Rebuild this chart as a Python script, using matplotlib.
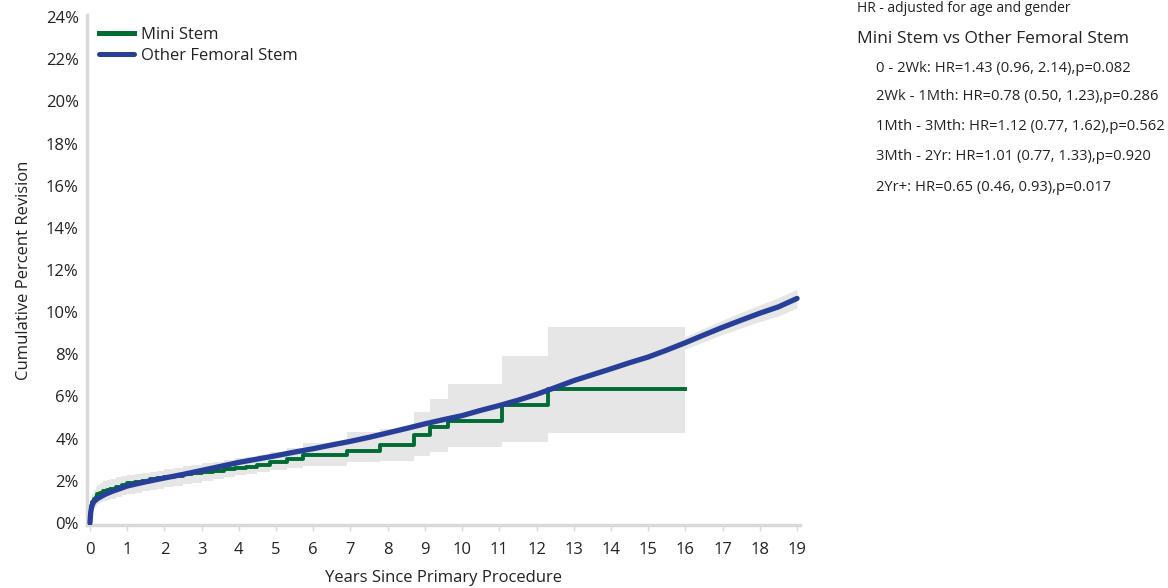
import numpy as np
import matplotlib.pyplot as plt

plt.rcParams['font.family'] = ['Open Sans', 'DejaVu Sans']

# Other Femoral Stem (KM estimate, % revised)
blue_x = [0, 0.02, 0.05, 0.1, 0.2, 0.4, 0.6, 0.8, 1.0, 1.5,
          2.0, 2.5, 3.0, 3.5, 4.0, 4.5, 5.0, 5.5, 6.0, 6.5, 7.0, 7.5,
          8.0, 8.5, 9.0, 9.5, 10.0, 10.5, 11.0, 11.5, 12.0, 12.5, 13.0,
          13.5, 14.0, 14.5, 15.0, 15.5, 16.0, 16.5, 17.0, 17.5, 18.0,
          18.5, 19.0]
blue_y = [0, 0.5, 0.8, 1.0, 1.15, 1.35, 1.5, 1.62, 1.75, 1.95,
          2.13, 2.3, 2.49, 2.68, 2.87, 3.03, 3.19, 3.36, 3.52, 3.7, 3.87, 4.06,
          4.27, 4.48, 4.70, 4.9, 5.09, 5.34, 5.57, 5.82, 6.1, 6.42, 6.75,
          7.03, 7.31, 7.6, 7.87, 8.2, 8.55, 8.92, 9.28, 9.62, 9.95,
          10.25, 10.65]
blue_lo = [0, 0.45, 0.74, 0.93, 1.08, 1.28, 1.43, 1.55, 1.67, 1.87,
           2.04, 2.21, 2.39, 2.58, 2.76, 2.92, 3.07, 3.24, 3.39, 3.57, 3.73, 3.92,
           4.12, 4.32, 4.54, 4.73, 4.92, 5.16, 5.38, 5.62, 5.89, 6.2, 6.52,
           6.79, 7.06, 7.34, 7.6, 7.91, 8.25, 8.6, 8.94, 9.25, 9.55,
           9.82, 10.2]
blue_hi = [0, 0.55, 0.86, 1.07, 1.22, 1.42, 1.57, 1.69, 1.83, 2.03,
           2.22, 2.39, 2.59, 2.78, 2.98, 3.14, 3.31, 3.48, 3.65, 3.83, 4.01, 4.2,
           4.42, 4.64, 4.86, 5.07, 5.26, 5.52, 5.76, 6.02, 6.31, 6.64, 6.98,
           7.27, 7.56, 7.86, 8.14, 8.49, 8.85, 9.24, 9.62, 9.99, 10.35,
           10.68, 11.1]

# Mini Stem (step function)
green_t = [0, 0.01, 0.02, 0.04, 0.06, 0.1, 0.15, 0.2, 0.28, 0.35, 0.45, 0.55,
           0.7, 0.85, 1.0, 1.2, 1.4, 1.6, 1.8, 2.0, 2.25, 2.5, 2.75, 3.0,
           3.3, 3.6, 3.9, 4.2, 4.5, 4.84, 5.3, 5.73, 6.9, 7.8, 8.72,
           9.14, 9.62, 11.07, 12.3, 16.0]
green_y = [0, 0.35, 0.6, 0.82, 0.98, 1.12, 1.25, 1.35, 1.44, 1.5, 1.57, 1.63,
           1.72, 1.8, 1.87, 1.95, 2.01, 2.06, 2.12, 2.18, 2.24, 2.3, 2.36, 2.42,
           2.48, 2.54, 2.6, 2.66, 2.74, 2.9, 3.05, 3.2, 3.42, 3.68, 4.17,
           4.57, 4.85, 5.6, 6.33, 6.33]
green_lo = [0, 0.15, 0.3, 0.45, 0.6, 0.72, 0.82, 0.9, 0.97, 1.02, 1.08, 1.14,
            1.22, 1.3, 1.37, 1.44, 1.5, 1.56, 1.62, 1.68, 1.75, 1.83, 1.91, 2.0,
            2.1, 2.18, 2.26, 2.34, 2.42, 2.52, 2.62, 2.72, 2.9, 2.92, 3.19,
            3.38, 3.62, 3.86, 4.28, 4.28]
green_hi = [0, 0.55, 0.9, 1.2, 1.38, 1.55, 1.7, 1.8, 1.9, 1.97, 2.04, 2.1,
            2.16, 2.21, 2.26, 2.31, 2.36, 2.42, 2.48, 2.54, 2.61, 2.68, 2.75, 2.82,
            2.9, 2.98, 3.06, 3.14, 3.24, 3.38, 3.55, 3.8, 4.3, 4.45, 5.28,
            5.88, 6.59, 7.94, 9.31, 9.31]

hr_rows = ['0 - 2Wk: HR=1.43 (0.96, 2.14),p=0.082',
           '2Wk - 1Mth: HR=0.78 (0.50, 1.23),p=0.286',
           '1Mth - 3Mth: HR=1.12 (0.77, 1.62),p=0.562',
           '3Mth - 2Yr: HR=1.01 (0.77, 1.33),p=0.920',
           '2Yr+: HR=0.65 (0.46, 0.93),p=0.017']

GREEN = '#006b33'
BLUE = '#283f99'
BAND = '#e6e6e6'
SPINE = '#d9d9d9'
TXT = '#222222'

fig = plt.figure(figsize=(11.68, 5.88), dpi=100)
ax = fig.add_axes([87 / 1168, 1 - 525 / 588, 713 / 1168, 510 / 588])

ax.fill_between(green_t, green_lo, green_hi, step='post', color=BAND, lw=0, zorder=1)
ax.fill_between(blue_x, blue_lo, blue_hi, color=BAND, lw=0, zorder=1)
ax.step(green_t, green_y, where='post', color=GREEN, lw=2.8, zorder=3,
        label='Mini Stem')
ax.plot(blue_x, blue_y, color=BLUE, lw=3.8, zorder=4, label='Other Femoral Stem',
        solid_capstyle='round')

ax.set_xlim(-0.08, 19.08)
ax.set_ylim(-0.1, 24.1)
ax.set_xticks(range(0, 20))
ax.set_yticks(range(0, 25, 2))
ax.set_yticklabels([f'{v}%' for v in range(0, 25, 2)])
ax.tick_params(axis='both', colors=SPINE, labelcolor=TXT, labelsize=12,
               length=4, width=1)
ax.tick_params(axis='x', pad=8)
ax.tick_params(axis='y', length=0, pad=6)

for s in ['top', 'right']:
    ax.spines[s].set_visible(False)
for s in ['left', 'bottom']:
    ax.spines[s].set_color(SPINE)
    ax.spines[s].set_linewidth(2.5)

ax.set_xlabel('Years Since Primary Procedure', fontsize=12, color=TXT, labelpad=9)
ax.set_ylabel('Cumulative Percent Revision', fontsize=12, color=TXT, labelpad=10)

leg = ax.legend(loc='upper left', bbox_to_anchor=(0.0, 1.0), frameon=False,
                fontsize=12, handlelength=2.1, handletextpad=0.45,
                labelspacing=0.3, borderaxespad=0.3)
for t in leg.get_texts():
    t.set_color(TXT)
for h in leg.get_lines():
    h.set_linewidth(3.6)

fig.text(857 / 1168, 1 - 9 / 588, 'HR - adjusted for age and gender',
         fontsize=10, color=TXT, va='center', ha='left')
fig.text(857 / 1168, 1 - 39 / 588, 'Mini Stem vs Other Femoral Stem',
         fontsize=12.5, color=TXT, va='center', ha='left')
row_y = [68, 97, 126, 156, 187]
for txt, y in zip(hr_rows, row_y):
    fig.text(876 / 1168, 1 - y / 588, txt, fontsize=10.6, color=TXT,
             va='center', ha='left')

fig.savefig('out.png', dpi=100)
